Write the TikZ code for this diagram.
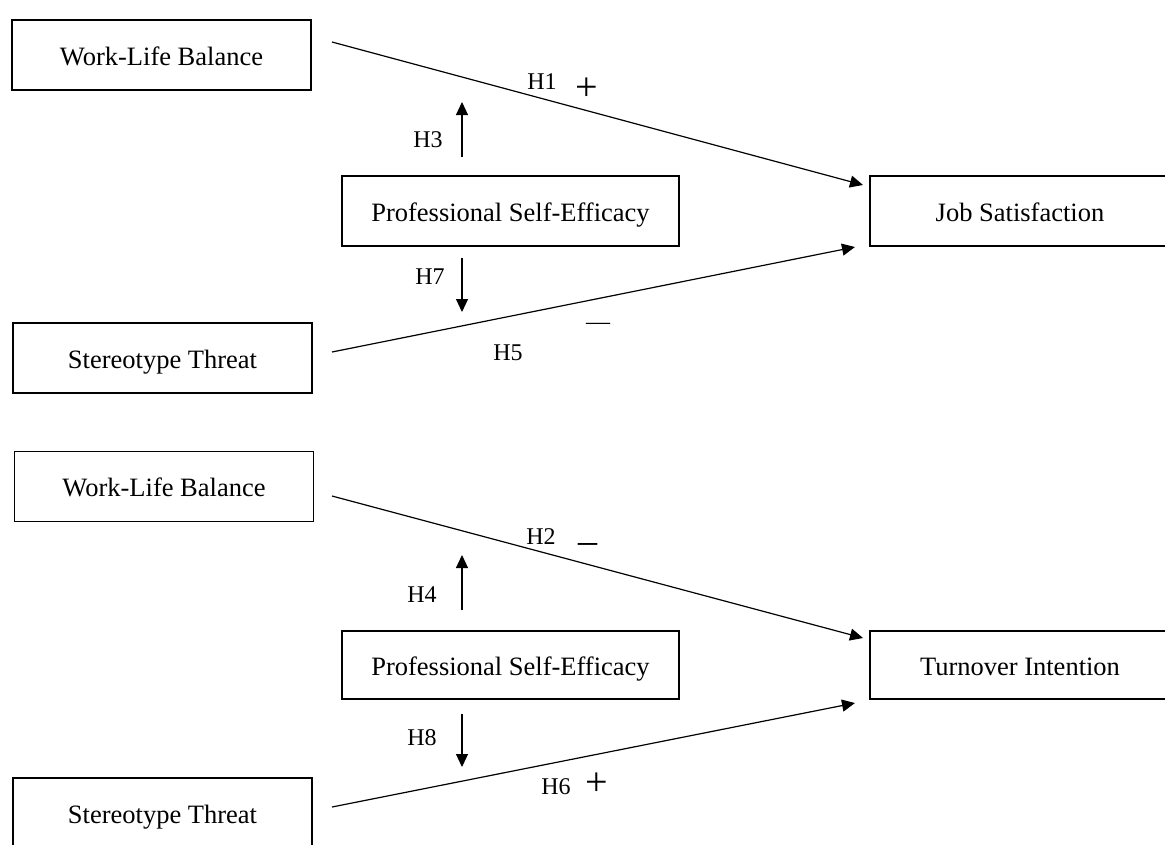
\documentclass[tikz,border=0pt]{standalone}
\usepackage{fontspec}
\setmainfont{Liberation Serif}
\usetikzlibrary{arrows.meta,calc}
\begin{document}
\begin{tikzpicture}[x=1pt,y=-1pt,
  box/.style={draw,line width=1.8pt,inner sep=0pt,outer sep=0pt,minimum height=70pt,
    font=\fontsize{26.5}{30}\selectfont,text height=20pt,text depth=0pt},
  lbl/.style={inner sep=0pt,font=\fontsize{24}{26}\selectfont},
  sign/.style={inner sep=0pt,font=\fontsize{40}{44}\selectfont},
  conn/.style={line width=1.2pt,-{Triangle[length=13pt,width=12pt]}}]
\useasboundingbox (0,0) rectangle (1165,844);
\fill[white] (0,0) rectangle (1165,844);
\clip (0,0) rectangle (1165,844);

% boxes
\node[box,minimum width=299pt] (wlb1) at (161.5,55) {Work-Life Balance};
\node[box,minimum width=299pt] (st1) at (162.5,358) {Stereotype Threat};
\node[box,minimum width=299pt] (wlb2) at (164,486.5) {Work-Life Balance};
\node[box,minimum width=299pt] (st2) at (162.5,813) {Stereotype Threat};
\node[box,minimum width=337pt] (pse1) at (510.5,211) {Professional Self-Efficacy};
\node[box,minimum width=337pt,minimum height=68pt] (pse2) at (510.5,665) {Professional Self-Efficacy};
\node[box,minimum width=300pt] (js) at (1020,211) {Job Satisfaction};
\node[box,minimum width=300pt,minimum height=68pt] (ti) at (1020,665) {Turnover Intention};

% connectors
\draw[conn] ([shift={(21,-13)}]wlb1.east) -- ([shift={(-7,-26)}]js.west);
\draw[conn] ([shift={(20,-6)}]st1.east) -- ([shift={(-15,36)}]js.west);
\draw[conn] ([shift={(18.5,9.5)}]wlb2.east) -- ([shift={(-7,-27)}]ti.west);
\draw[conn] ([shift={(20,-6)}]st2.east) -- ([shift={(-15,38)}]ti.west);
\draw[conn] ([shift={(-48.5,-19)}]pse1.north) -- ([shift={(-48.5,-74)}]pse1.north);
\draw[conn] ([shift={(-48.5,12)}]pse1.south) -- ([shift={(-48.5,66)}]pse1.south);
\draw[conn] ([shift={(-48.5,-21)}]pse2.north) -- ([shift={(-48.5,-76)}]pse2.north);
\draw[conn] ([shift={(-48.5,15)}]pse2.south) -- ([shift={(-48.5,68)}]pse2.south);

% labels
\node[lbl] (h1) at (542,82) {H1};
\node[sign] (s1) at (587,89) {+};
\node[lbl] (h3) at (428,140) {H3};
\node[lbl] (h7) at (430,277) {H7};
\node[lbl] (h5) at (508,353) {H5};
\node[lbl,anchor=base] (s5) at (598,329) {—};
\node[lbl] (h2) at (541,537) {H2};
\node[sign,anchor=base,font=\fontsize{38}{40}\selectfont] (s2) at (587.5,540) {\symbol{95}};
\node[lbl] (h4) at (422,595) {H4};
\node[lbl] (h8) at (422,738) {H8};
\node[lbl] (h6) at (556,787) {H6};
\node[sign] (s6) at (597,784) {+};
\end{tikzpicture}
\end{document}
